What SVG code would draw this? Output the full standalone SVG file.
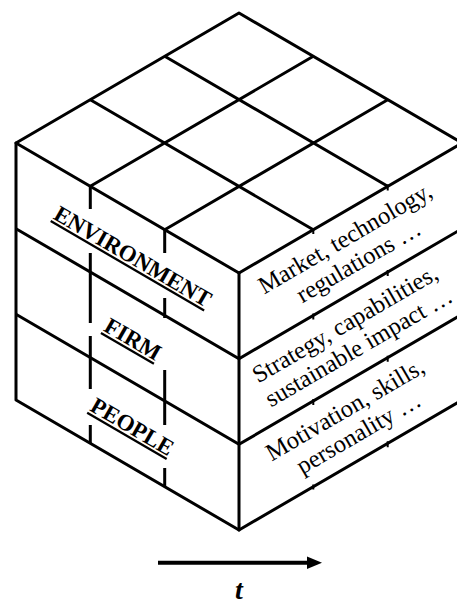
<svg xmlns="http://www.w3.org/2000/svg" width="457" height="606" viewBox="0 0 457 606">
<style>
.edge{stroke:#000;stroke-width:3;fill:none;stroke-linecap:round;stroke-linejoin:round}
.grid{stroke:#000;stroke-width:3;fill:none;stroke-linecap:butt}
.tick{stroke:#000;stroke-width:2;fill:none}
.lab{font-family:"Liberation Serif","Times New Roman",serif;font-weight:bold;font-size:23px;text-decoration:underline;fill:#000}
.desc{font-family:"Liberation Serif","Times New Roman",serif;font-size:24.5px;fill:#000}
.axis{font-family:"Liberation Serif","Times New Roman",serif;font-size:28px;font-weight:bold;font-style:italic;fill:#000}
</style>
<rect width="457" height="606" fill="#fff"/>
<g id="cube">
  <path class="edge" d="M239,13 L16,143 L239,273 L462,143 Z"/>
  <path class="edge" d="M16,143 V400 L239,530 L462,400 V143"/>
  <path class="edge" d="M239,273 V530"/>
</g>
<g id="connectors">
  <path class="grid" d="M313.3,56.3 L90.3,186.3 M387.7,99.7 L164.7,229.7 M164.7,56.3 L387.7,186.3 M90.3,99.7 L313.3,229.7"/>
  <path class="grid" d="M16,228.7 L239,358.7 L462,228.7 M16,314.3 L239,444.3 L462,314.3"/>
  <path class="grid" d="M90.3,186.3 V209 M90.3,253 V323 M90.3,336 V389 M90.3,425 V443.3"/>
  <path class="grid" d="M164.7,229.7 V253 M164.7,298 V318 M164.7,370 V425 M164.7,468 V486.7"/>
  <path class="tick" d="M313.3,228 v6 M313.3,313.5 v6 M313.3,399 v6 M313.3,484.5 v5 M387.7,184.5 v6 M387.7,270 v6 M387.7,355.7 v6 M387.7,441.3 v6"/>
  <path d="M158,562.7 H310" stroke="#000" stroke-width="4"/>
  <polygon points="307,556.5 322,562.7 307,569" fill="#000"/>
</g>
<g id="environment">
  <text class="lab" text-anchor="middle" transform="translate(129,263) rotate(30.24)">ENVIRONMENT</text>
  <text class="desc" text-anchor="middle" transform="translate(349,245) rotate(-30.24)"><tspan x="0" y="0">Market, technology,</tspan><tspan x="0" y="27">regulations …</tspan></text>
</g>
<g id="firm">
  <text class="lab" text-anchor="middle" transform="translate(129,345.7) rotate(30.24)">FIRM</text>
  <text class="desc" text-anchor="middle" transform="translate(349,330.7) rotate(-30.24)"><tspan x="0" y="0">Strategy, capabilities,</tspan><tspan x="0" y="27">sustainable impact …</tspan></text>
</g>
<g id="people">
  <text class="lab" text-anchor="middle" transform="translate(128.5,433.2) rotate(30.24)">PEOPLE</text>
  <text class="desc" text-anchor="middle" transform="translate(349,416.4) rotate(-30.24)"><tspan x="0" y="0">Motivation, skills,</tspan><tspan x="0" y="27">personality …</tspan></text>
</g>
<g id="time-label">
  <text class="axis" x="239" y="599" text-anchor="middle">t</text>
</g>
</svg>
